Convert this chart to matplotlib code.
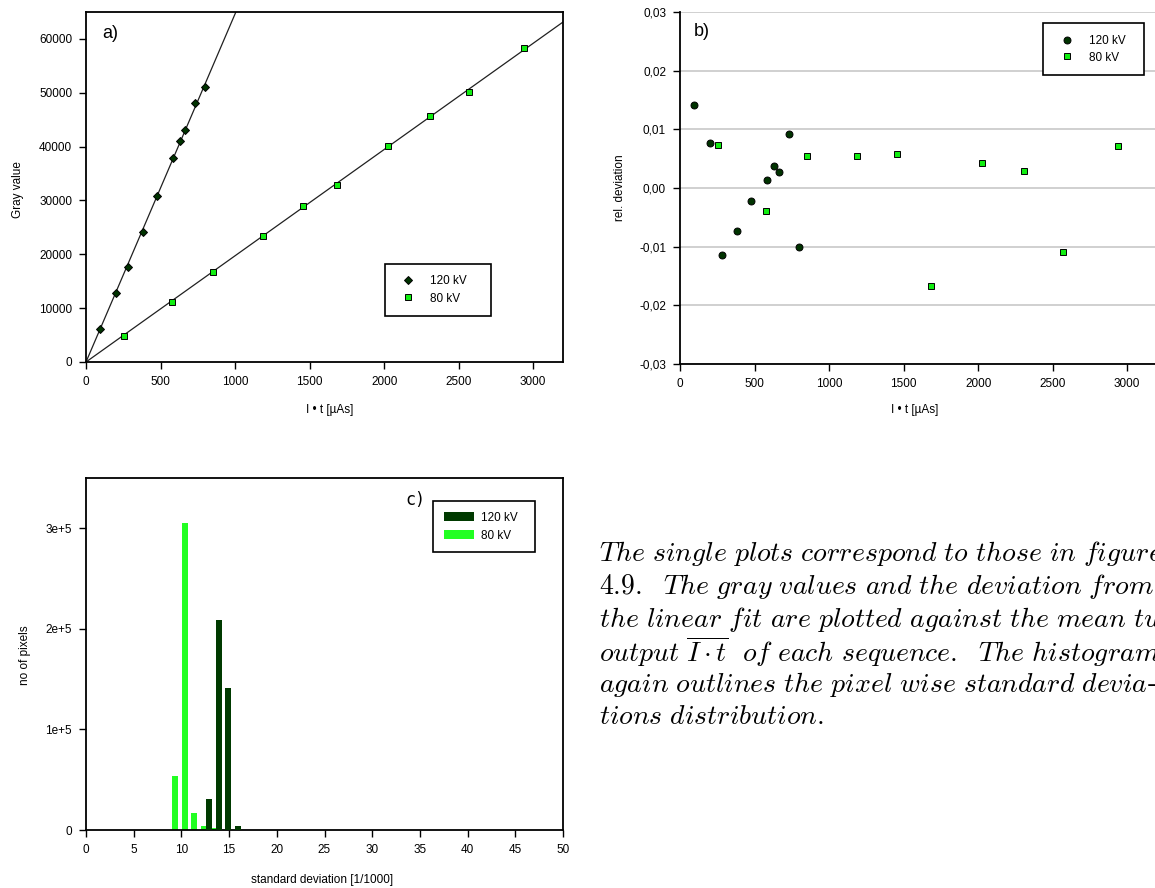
import numpy as np
import matplotlib
matplotlib.use("Agg")
import matplotlib.pyplot as plt
from matplotlib.ticker import FuncFormatter, FixedLocator

# ---------------- data ----------------
x120 = [97, 198, 281, 380, 479, 584, 629, 662, 734, 799]
gray120 = [6050, 12800, 17600, 24100, 30900, 37800, 41100, 43000, 48100, 51000]
dev120 = [0.0142, 0.0076, -0.0114, -0.0074, -0.0022, 0.0013, 0.0038, 0.0027, 0.0092, -0.0100]

x80 = [253, 577, 852, 1188, 1454, 1687, 2024, 2309, 2567, 2940]
gray80 = [4900, 11200, 16800, 23400, 28900, 32800, 40100, 45700, 50200, 58400]
dev80 = [0.0073, -0.0040, 0.0054, 0.0054, 0.0058, -0.0167, 0.0043, 0.0029, -0.0109, 0.0071]

hist_bins80 = [9, 10, 11, 12, 13]
hist80 = [54000, 305000, 16600, 3500, 2000]
hist_bins120 = [12, 13, 14, 15]
hist120 = [31000, 208500, 141300, 3500]

labels = ["120 kV", "80 kV"]
c_dark = "#003a00"
c_light = "#22ff22"
c_mark_dark = "#003300"
c_mark_light = "#11ee11"

caption = [
    r"$\mathit{The\ single\ plots\ correspond\ to\ those\ in\ figure}$",
    r"$\mathit{4.9.\ \ The\ gray\ values\ and\ the\ deviation\ from}$",
    r"$\mathit{the\ linear\ fit\ are\ plotted\ against\ the\ mean\ tube}$",
    r"$\mathit{output}\ \overline{I\cdot t}\ \ \mathit{of\ each\ sequence.\ \ The\ histogram}$",
    r"$\mathit{again\ outlines\ the\ pixel\ wise\ standard\ devia}$-",
    r"$\mathit{tions\ distribution.}$",
]

# ---------------- style ----------------
plt.rcParams["font.family"] = ["Liberation Sans", "DejaVu Sans"]
plt.rcParams["mathtext.fontset"] = "cm"
W, H = 1155, 888
fig = plt.figure(figsize=(W / 100, H / 100), dpi=100)

def rect(l, r, t, b):
    return [l / W, 1 - b / H, (r - l) / W, (b - t) / H]

FS = 8.5
SPW = 1.3

def style_axes(ax):
    ax.tick_params(direction="out", length=5, width=1.0, labelsize=FS, pad=5, color="black")
    for s in ax.spines.values():
        s.set_linewidth(SPW)

# ---------------- panel a ----------------
axa = fig.add_axes(rect(86, 563, 12, 362))
style_axes(axa)
xx = np.array([0, 3200.0])
for xs, ys in ((x120, gray120), (x80, gray80)):
    xs_, ys_ = np.array(xs, float), np.array(ys, float)
    k = np.sum(xs_ * ys_) / np.sum(xs_ * xs_)
    axa.plot(xx, k * xx, color="#202020", lw=0.9, zorder=2)
axa.plot(x120, gray120, ls="none", marker="D", ms=4.3, mfc=c_mark_dark, mec="black", mew=0.7, label=labels[0], zorder=3)
axa.plot(x80, gray80, ls="none", marker="s", ms=4.3, mfc=c_mark_light, mec="black", mew=0.7, label=labels[1], zorder=3)
axa.set_xlim(0, 3200)
axa.set_ylim(0, 65000)
axa.set_xticks(np.arange(0, 3001, 500))
axa.set_yticks(np.arange(0, 60001, 10000))
leg = axa.legend(loc="upper left", bbox_to_anchor=(385 / W, 1 - 264 / H), bbox_transform=fig.transFigure,
                 fancybox=False, framealpha=1, edgecolor="black", fontsize=FS, handlelength=2.0,
                 handletextpad=0.9, borderpad=0.95, labelspacing=0.45, borderaxespad=0,
                 labels=["120 kV    ", "80 kV    "], handles=axa.get_lines()[2:])
leg.get_frame().set_linewidth(1.2)
fig.text(102 / W, 1 - 34 / H, "a)", fontsize=13, va="center", ha="left")
fig.text(18 / W, 1 - 190 / H, "Gray value", rotation=90, fontsize=FS, va="center", ha="center")
fig.text(330 / W, 1 - 410 / H, "I \u2022 t [\u00b5As]", fontsize=FS, va="center", ha="center")

# ---------------- panel b ----------------
axb = fig.add_axes(rect(680, 1157, 12, 364))
style_axes(axb)
axb.spines["top"].set_visible(False)
axb.spines["right"].set_visible(False)
axb.set_xlim(0, 3200)
axb.set_ylim(-0.03, 0.03)
axb.set_xticks(np.arange(0, 3001, 500))
axb.set_yticks(np.arange(-0.03, 0.0301, 0.01))
axb.yaxis.set_major_formatter(FuncFormatter(lambda v, p: f"{v:.2f}".replace(".", ",").replace("-0,00", "0,00")))
axb.grid(axis="y", color="#c4c4c4", lw=1.1, zorder=0)
axb.set_axisbelow(True)
axb.plot(x120, dev120, ls="none", marker="o", ms=5.0, mfc=c_mark_dark, mec="black", mew=0.7, label=labels[0], zorder=3)
axb.plot(x80, dev80, ls="none", marker="s", ms=4.3, mfc=c_mark_light, mec="black", mew=0.7, label=labels[1], zorder=3)
legb = axb.legend(loc="upper left", bbox_to_anchor=(1043 / W, 1 - 23 / H), bbox_transform=fig.transFigure,
                  fancybox=False, framealpha=1, edgecolor="black", fontsize=FS, handlelength=2.0,
                  handletextpad=0.9, borderpad=1.0, labelspacing=0.4, borderaxespad=0,
                  labels=["120 kV  ", "80 kV  "], handles=axb.get_lines())
legb.get_frame().set_linewidth(1.2)
fig.text(694 / W, 1 - 32 / H, "b)", fontsize=13, va="center", ha="left")
fig.text(620 / W, 1 - 188 / H, "rel. deviation", rotation=90, fontsize=FS, va="center", ha="center")
fig.text(915 / W, 1 - 410 / H, "I \u2022 t [\u00b5As]", fontsize=FS, va="center", ha="center")

# ---------------- panel c ----------------
axc = fig.add_axes(rect(86, 563, 478, 830))
style_axes(axc)
bw = 0.63
b80 = axc.bar(np.array(hist_bins80) + 0.05, hist80, width=bw, align="edge", color=c_light, label=labels[1], zorder=2)
b120 = axc.bar(np.array(hist_bins120) + 0.58, hist120, width=bw, align="edge", color=c_dark, label=labels[0], zorder=3)
axc.set_xlim(0, 50)
axc.set_ylim(0, 350000)
axc.set_xticks(np.arange(0, 51, 5))
axc.yaxis.set_major_locator(FixedLocator([0, 1e5, 2e5, 3e5]))
axc.set_yticklabels(["0", "1e+5", "2e+5", "3e+5"])
legc = axc.legend(handles=[b120, b80], labels=["120 kV  ", "80 kV  "], loc="upper left",
                  bbox_to_anchor=(433 / W, 1 - 501 / H), bbox_transform=fig.transFigure,
                  fancybox=False, framealpha=1, edgecolor="black", fontsize=FS, handlelength=2.6,
                  handleheight=0.9, handletextpad=0.6, borderpad=0.9, labelspacing=0.5, borderaxespad=0)
legc.get_frame().set_linewidth(1.2)
fig.text(405 / W, 1 - 500 / H, "c)", fontsize=12, va="center", ha="left", family="DejaVu Sans Mono")
fig.text(25 / W, 1 - 655 / H, "no of pixels", rotation=90, fontsize=FS, va="center", ha="center")
fig.text(322 / W, 1 - 880 / H, "standard deviation [1/1000]", fontsize=FS, va="center", ha="center")

# ---------------- caption ----------------
y0 = 554
for i, line in enumerate(caption):
    fig.text(599 / W, 1 - (y0 + 32.5 * i) / H, line, fontsize=20, va="center", ha="left")

fig.savefig("out.png", dpi=100)
